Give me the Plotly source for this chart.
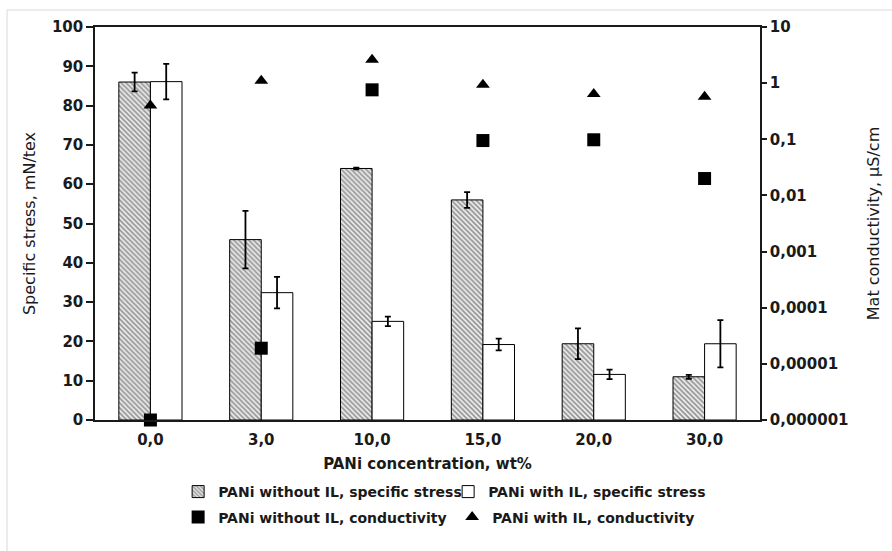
import plotly.graph_objects as go

categories = ["0,0", "3,0", "10,0", "15,0", "20,0", "30,0"]
stress_without_il = [86.0, 45.9, 64.0, 56.0, 19.4, 11.0]
stress_without_il_err = [2.4, 7.3, 0.2, 2.0, 3.9, 0.5]
stress_with_il = [86.1, 32.4, 25.1, 19.2, 11.6, 19.4]
stress_with_il_err = [4.5, 4.0, 1.2, 1.5, 1.2, 6.0]
cond_without_il = [1e-6, 1.9e-5, 0.76, 0.095, 0.098, 0.02]
cond_with_il = [0.4, 1.1, 2.6, 0.94, 0.64, 0.57]

right_tickvals = [1e-6, 1e-5, 1e-4, 1e-3, 1e-2, 1e-1, 1, 10]
right_ticktext = ["0,000001", "0,00001", "0,0001", "0,001", "0,01", "0,1", "1", "10"]

FONT = "DejaVu Sans, Arial, sans-serif"
INK = "#1a1a1a"

fig = go.Figure()
fig.add_trace(go.Bar(
    x=categories, y=stress_without_il, name="PANi without IL, specific stress",
    marker=dict(color="white", line=dict(color="black", width=1),
                pattern=dict(shape="\\", fgcolor="#3a3a3a", bgcolor="#f2f2f2", size=3.5, solidity=0.55)),
    error_y=dict(type="data", array=stress_without_il_err, color="black", thickness=1.8, width=3),
    legend="legend", yaxis="y"))
fig.add_trace(go.Bar(
    x=categories, y=stress_with_il, name="PANi with IL, specific stress",
    marker=dict(color="white", line=dict(color="black", width=1)),
    error_y=dict(type="data", array=stress_with_il_err, color="black", thickness=1.8, width=3),
    legend="legend", yaxis="y"))
fig.add_trace(go.Scatter(
    x=categories, y=cond_without_il, name="PANi without IL, conductivity", mode="markers",
    marker=dict(symbol="square", size=13, color="black"), cliponaxis=False,
    legend="legend2", yaxis="y2"))
fig.add_trace(go.Scatter(
    x=categories, y=cond_with_il, name="PANi with IL, conductivity", mode="markers",
    marker=dict(symbol="triangle-up", size=12, color="black"), cliponaxis=False,
    legend="legend2", yaxis="y2"))

tickfont = dict(family=FONT, size=15, color=INK, weight="bold")
titlefont = dict(family=FONT, size=16, color=INK)
legfont = dict(family=FONT, size=14, color=INK, weight="bold")

fig.update_layout(
    width=892, height=551,
    margin=dict(l=95, r=132, t=27, b=131),
    paper_bgcolor="white", plot_bgcolor="white",
    barmode="group", bargap=0.43, bargroupgap=0,
    font=dict(family=FONT, size=14, color=INK),
    xaxis=dict(type="category", showline=True, linecolor=INK, linewidth=1.5,
               mirror=True, ticks="outside", ticklen=5, tickcolor="rgba(0,0,0,0)",
               tickfont=tickfont, showgrid=False, zeroline=False,
               title=dict(text="PANi concentration, wt%",
                          font=dict(family=FONT, size=15, color=INK, weight="bold"), standoff=11)),
    yaxis=dict(range=[0, 100], dtick=10, showline=True, linecolor=INK, linewidth=1.5,
               ticks="outside", ticklen=7, tickwidth=1.5, tickcolor=INK,
               tickfont=tickfont, showgrid=False, zeroline=False,
               title=dict(text="Specific stress, mN/tex", font=titlefont, standoff=12)),
    yaxis2=dict(type="log", range=[-6, 1], overlaying="y", side="right",
                tickvals=right_tickvals, ticktext=right_ticktext,
                showline=True, linecolor=INK, linewidth=1.5,
                ticks="outside", ticklen=5, tickwidth=1.5, tickcolor=INK,
                tickfont=tickfont, showgrid=False, zeroline=False,
                title=dict(text="Mat conductivity, μS/cm", font=titlefont, standoff=20)),
    yaxis3=dict(range=[0, 100], dtick=10, overlaying="y", side="left", anchor="x",
                ticks="inside", ticklen=6, tickwidth=1.5, tickcolor=INK,
                showticklabels=False, showline=False, showgrid=False, zeroline=False),
    yaxis4=dict(type="log", range=[-6, 1], overlaying="y", side="right", anchor="x",
                tickvals=right_tickvals, ticks="inside", ticklen=5, tickwidth=1.5,
                tickcolor=INK, showticklabels=False, showline=False,
                showgrid=False, zeroline=False),
    legend=dict(orientation="h", x=0.125, xanchor="left", y=-0.1425, yanchor="top",
                font=legfont, itemwidth=30, entrywidth=225, entrywidthmode="pixels",
                bgcolor="rgba(0,0,0,0)", traceorder="normal"),
    legend2=dict(orientation="h", x=0.125, xanchor="left", y=-0.2074, yanchor="top",
                 font=legfont, itemwidth=30, entrywidth=229, entrywidthmode="pixels",
                 bgcolor="rgba(0,0,0,0)", traceorder="normal"),
    shapes=[dict(type="rect", xref="paper", yref="paper", x0=-0.1323, x1=1.3, y0=-0.5, y1=1.0433,
                 line=dict(color="#d9d9d9", width=1), fillcolor="rgba(0,0,0,0)", layer="below")],
    showlegend=True,
)

fig.write_html("out.html")
